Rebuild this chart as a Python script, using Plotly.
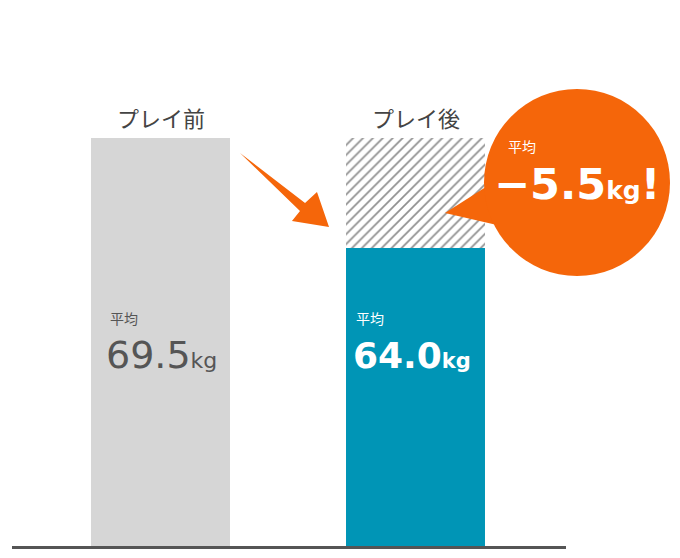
import plotly.graph_objects as go

# ---- data ----
categories = ["プレイ前", "プレイ後"]
averages = [69.5, 64.0]
difference = round(averages[0] - averages[1], 1)  # 5.5
unit = "kg"
avg_label = "平均"

W, H = 680, 558
OFF = 8  # page body margin offset
BASE_Y = 547  # screen y of the baseline
MT = 0
MB = H - (BASE_Y - OFF)
PH = H - MT - MB

def px(x):
    return (x - OFF) / W

def py(y):
    return 1 - (y - OFF - MT) / PH

GRAY = "#d6d6d6"
TEAL = "#0095b6"
ORANGE = "#f5660a"
TXT = "#555555"
JP = "Noto Sans CJK JP, Noto Sans, sans-serif"
NUM = "DejaVu Sans, Verdana, sans-serif"

# y axis: 20 px per kg, bar top (69.5) at screen y=138
YPX = 20.0
top_screen = 138
ymin = averages[0] - (BASE_Y - top_screen) / YPX
ymax = ymin + PH / YPX
# x axis: category centres at screen x=160.5 and 415.5
XPX = 255.0
c0 = 160.5
xmin = -(c0 - OFF) / XPX
xmax = xmin + W / XPX

fig = go.Figure()
fig.add_trace(go.Bar(
    x=[0, 1], y=averages,
    marker=dict(color=[GRAY, TEAL], line=dict(width=0)),
    width=0.545, hoverinfo="skip", showlegend=False,
))
fig.add_trace(go.Bar(
    x=[1], y=[difference], base=[averages[1]],
    marker=dict(color="white", line=dict(width=0),
                pattern=dict(shape="/", fgcolor="#222222", bgcolor="white",
                             size=7, solidity=0.25)),
    width=0.545, hoverinfo="skip", showlegend=False,
))

annotations = []
for i, c in enumerate(categories):
    annotations.append(dict(x=i, y=averages[0], xref="x", yref="y", text=c,
                            showarrow=False, yanchor="bottom", yshift=3,
                            font=dict(family=JP, size=22, color="#444444")))
styles = [dict(color=TXT, weight=400, size=38, ksize=22, lx=-53, nx=-57),
          dict(color="white", weight=700, size=36, ksize=21, lx=-62, nx=-65)]
for i, c in enumerate(categories):
    s = styles[i]
    annotations.append(dict(x=i, y=averages[0] - (318 - top_screen) / YPX, xref="x", yref="y",
                            text=avg_label, showarrow=False, xanchor="left", yanchor="middle",
                            xshift=s["lx"],
                            font=dict(family=JP, size=14, color=s["color"])))
    annotations.append(dict(
        x=i, y=averages[0] - (355 - top_screen) / YPX, xref="x", yref="y",
        text=f"{averages[i]:.1f}<span style='font-size:{s['ksize']}px'>{unit}</span>",
        showarrow=False, xanchor="left", yanchor="middle", xshift=s["nx"],
        font=dict(family=NUM, size=s["size"], color=s["color"], weight=s["weight"])))

annotations.append(dict(x=px(506), y=py(146), xref="paper", yref="paper", text=avg_label,
                        showarrow=False, xanchor="left", yanchor="middle",
                        font=dict(family=JP, size=14, color="white")))
annotations.append(dict(
    x=px(492), y=py(184), xref="paper", yref="paper",
    text=f"−{difference:.1f}<span style='font-size:25px'>{unit}</span>!",
    showarrow=False, xanchor="left", yanchor="middle",
    font=dict(family=NUM, size=43, color="white", weight=700)))

def path(points):
    return "M " + " L ".join(f"{px(a):.4f},{py(b):.4f}" for a, b in points) + " Z"

shapes = [
    dict(type="line", xref="paper", yref="paper", x0=px(12), x1=px(566),
         y0=py(547.5), y1=py(547.5), line=dict(color="#555555", width=3)),
    dict(type="path", xref="paper", yref="paper",
         path=path([(240, 153), (305, 203), (317, 192), (329, 227), (292, 221), (300, 211)]),
         fillcolor=ORANGE, line=dict(width=0)),
    dict(type="path", xref="paper", yref="paper",
         path=path([(445, 213), (500, 178), (510, 228)]),
         fillcolor=ORANGE, line=dict(width=0)),
    dict(type="circle", xref="paper", yref="paper",
         x0=px(484), x1=px(670), y0=py(89), y1=py(276),
         fillcolor=ORANGE, line=dict(width=0)),
]

fig.update_layout(
    width=W, height=H,
    margin=dict(l=0, r=0, t=MT, b=MB),
    paper_bgcolor="white", plot_bgcolor="white",
    barmode="overlay",
    xaxis=dict(range=[xmin, xmax], visible=False),
    yaxis=dict(range=[ymin, ymax], visible=False),
    annotations=annotations, shapes=shapes,
)
fig.write_html("out.html")
